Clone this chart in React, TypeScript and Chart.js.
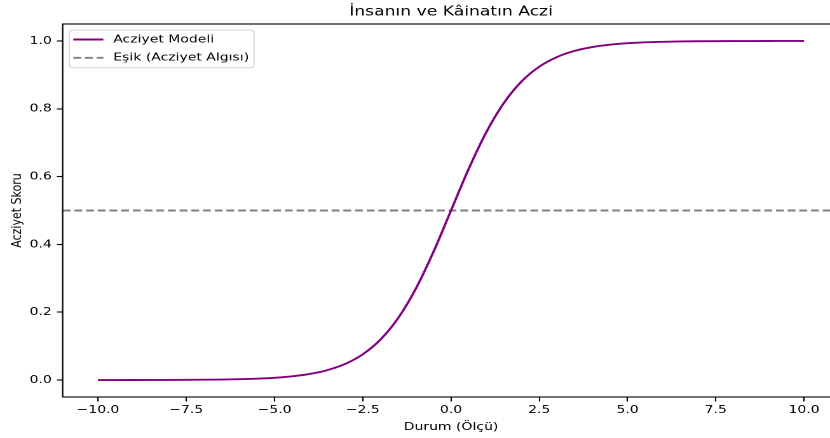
import React, { useEffect, useRef } from "react";
import { Chart, registerables } from "chart.js";

Chart.register(...registerables);

// ---- data ----
const xValues = [
  -10, -9.5, -9, -8.5, -8, -7.5, -7, -6.5, -6, -5.5, -5, -4.5, -4, -3.5, -3, -2.5, -2, -1.5, -1, -0.5,
  0, 0.5, 1, 1.5, 2, 2.5, 3, 3.5, 4, 4.5, 5, 5.5, 6, 6.5, 7, 7.5, 8, 8.5, 9, 9.5, 10,
];
const acziyetValues = [
  0.00005, 0.00008, 0.00012, 0.0002, 0.00034, 0.00055, 0.00091, 0.0015, 0.0025, 0.0041, 0.0067, 0.011,
  0.018, 0.0293, 0.0474, 0.0759, 0.1192, 0.1824, 0.2689, 0.3775,
  0.5, 0.6225, 0.7311, 0.8176, 0.8808, 0.9241, 0.9526, 0.9707, 0.982, 0.989, 0.9933, 0.9959, 0.9975,
  0.9985, 0.9991, 0.9994, 0.9997, 0.9998, 0.9999, 0.99992, 0.99995,
];
const thresholdValue = 0.5;
const xTickValues = [-10, -7.5, -5, -2.5, 0, 2.5, 5, 7.5, 10];
const xTickLabels = ["−10.0", "−7.5", "−5.0", "−2.5", "0.0", "2.5", "5.0", "7.5", "10.0"];
const yTickValues = [0, 0.2, 0.4, 0.6, 0.8, 1.0];
const yTickLabels = ["0.0", "0.2", "0.4", "0.6", "0.8", "1.0"];
const xRange = [-11, 11];
const yRange = [-0.05, 1.05];
const seriesLabels = ["Acziyet Modeli", "Eşik (Acziyet Algısı)"];
const titleText = "İnsanın ve Kâinatın Aczi";
const xTitle = "Durum (Ölçü)";
const yTitle = "Acziyet Skoru";

// ---- layout ----
const SX = 1.271;
const CW = 672;
const CH = 438;
const FONT = "'DejaVu Sans', sans-serif";

const framePlugin = {
  id: "mplFrame",
  afterDraw(chart: any) {
    const { ctx, chartArea } = chart;
    const { left, right, top, bottom } = chartArea;
    ctx.save();
    // frame
    ctx.strokeStyle = "#000";
    ctx.lineWidth = 1.1;
    ctx.strokeRect(left, top, right - left, bottom - top);
    // title
    ctx.fillStyle = "#000";
    ctx.font = `13.5px ${FONT}`;
    ctx.textAlign = "center";
    ctx.textBaseline = "middle";
    ctx.fillText(titleText, (left + right) / 2, 12);
    // legend
    const bx = left + 5.2;
    const by = top + 6;
    const bw = 145.3;
    const bh = 37.7;
    const r = 3;
    ctx.beginPath();
    ctx.moveTo(bx + r, by);
    ctx.lineTo(bx + bw - r, by);
    ctx.quadraticCurveTo(bx + bw, by, bx + bw, by + r);
    ctx.lineTo(bx + bw, by + bh - r);
    ctx.quadraticCurveTo(bx + bw, by + bh, bx + bw - r, by + bh);
    ctx.lineTo(bx + r, by + bh);
    ctx.quadraticCurveTo(bx, by + bh, bx, by + bh - r);
    ctx.lineTo(bx, by + r);
    ctx.quadraticCurveTo(bx, by, bx + r, by);
    ctx.closePath();
    ctx.fillStyle = "rgba(255,255,255,0.8)";
    ctx.fill();
    ctx.strokeStyle = "#d6d6d6";
    ctx.lineWidth = 1;
    ctx.stroke();
    chart.data.datasets.forEach((ds: any, i: number) => {
      const y = by + 9.5 + i * 18.3;
      ctx.beginPath();
      ctx.strokeStyle = ds.borderColor;
      ctx.lineWidth = ds.borderWidth;
      ctx.setLineDash(ds.borderDash || []);
      ctx.moveTo(bx + 3.2, y);
      ctx.lineTo(bx + 26.8, y);
      ctx.stroke();
      ctx.setLineDash([]);
      ctx.fillStyle = "#000";
      ctx.font = `11px ${FONT}`;
      ctx.textAlign = "left";
      ctx.textBaseline = "middle";
      ctx.fillText(ds.label, bx + 34.6, y);
    });
    ctx.restore();
  },
};

export default function App() {
  const ref = useRef<HTMLCanvasElement>(null);
  useEffect(() => {
    if (!ref.current) return;
    const chart = new Chart(ref.current, {
      type: "line",
      data: {
        datasets: [
          {
            label: seriesLabels[0],
            data: xValues.map((x, i) => ({ x, y: acziyetValues[i] })),
            borderColor: "#800080",
            borderWidth: 1.9,
            pointRadius: 0,
            cubicInterpolationMode: "monotone",
            fill: false,
          },
          {
            label: seriesLabels[1],
            data: xRange.map((x) => ({ x, y: thresholdValue })),
            borderColor: "#808080",
            borderWidth: 1.9,
            borderDash: [6.2, 3],
            pointRadius: 0,
            fill: false,
          },
        ],
      },
      options: {
        animation: false,
        responsive: false,
        devicePixelRatio: 2,
        layout: { padding: { top: 24, right: CW - 660.4, left: 0, bottom: 0 } },
        plugins: { legend: { display: false }, title: { display: false }, tooltip: { enabled: false } },
        scales: {
          x: {
            type: "linear",
            min: xRange[0],
            max: xRange[1],
            afterBuildTicks: (s: any) => {
              s.ticks = xTickValues.map((v) => ({ value: v }));
            },
            afterFit: (s: any) => {
              s.height = 41;
            },
            border: { display: false },
            grid: { drawOnChartArea: false, drawTicks: true, tickLength: 4.5, color: "#000", tickWidth: 1.1 },
            ticks: {
              autoSkip: false,
              maxRotation: 0,
              padding: 2,
              color: "#000",
              font: { family: FONT, size: 11 },
              callback: (_v: any, i: number) => xTickLabels[i],
            },
            title: {
              display: true,
              text: xTitle,
              color: "#000",
              font: { family: FONT, size: 11 },
              padding: { top: 0, bottom: 4.4 },
            },
          },
          y: {
            type: "linear",
            min: yRange[0],
            max: yRange[1],
            afterBuildTicks: (s: any) => {
              s.ticks = yTickValues.map((v) => ({ value: v }));
            },
            afterFit: (s: any) => {
              s.width = 49.3;
            },
            border: { display: false },
            grid: { drawOnChartArea: false, drawTicks: true, tickLength: 4.5, color: "#000", tickWidth: 1.1 },
            ticks: {
              autoSkip: false,
              padding: 4,
              color: "#000",
              font: { family: FONT, size: 11 },
              callback: (_v: any, i: number) => yTickLabels[i],
            },
            title: {
              display: true,
              text: yTitle,
              color: "#000",
              font: { family: FONT, size: 11 },
              padding: { top: 6.8, bottom: 0 },
            },
          },
        },
      },
      plugins: [framePlugin],
    } as any);
    return () => chart.destroy();
  }, []);

  return (
    <div
      style={{
        position: "fixed",
        left: 0,
        top: 0,
        width: 830,
        height: CH,
        overflow: "hidden",
        background: "#fff",
      }}
    >
      <div style={{ width: CW, height: CH, transform: `scaleX(${SX})`, transformOrigin: "0 0" }}>
        <canvas ref={ref} width={CW} height={CH} style={{ display: "block" }} />
      </div>
    </div>
  );
}
